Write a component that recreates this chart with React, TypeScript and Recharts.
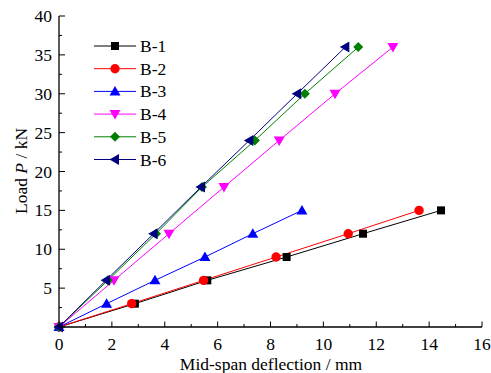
import React from 'react';
import { LineChart, Line, XAxis, YAxis, Legend } from 'recharts';

// load levels (kN)
const loadsB13 = [0, 3, 6, 9, 12, 15];
const loadsB46 = [0, 6, 12, 18, 24, 30, 36];

// mid-span deflection (mm)
const b1Defl = [0, 2.87, 5.61, 8.61, 11.5, 14.45];
const b2Defl = [0, 2.75, 5.47, 8.21, 10.94, 13.62];
const b3Defl = [0, 1.8, 3.63, 5.52, 7.33, 9.19];
const b4Defl = [0, 2.08, 4.16, 6.24, 8.33, 10.44, 12.63];
const b5Defl = [0, 1.85, 3.67, 5.41, 7.41, 9.3, 11.32];
const b6Defl = [0, 1.78, 3.58, 5.37, 7.2, 9.01, 10.83];

const xTicks = [0, 1, 2, 3, 4, 5, 6, 7, 8, 9, 10, 11, 12, 13, 14, 15, 16];
const yTicks = [0, 2.5, 5, 7.5, 10, 12.5, 15, 17.5, 20, 22.5, 25, 27.5, 30, 32.5, 35, 37.5, 40];

const FONT = '"Liberation Serif", "Times New Roman", serif';
const FS = 17.5;

type Shape = 'square' | 'circle' | 'up' | 'down' | 'diamond' | 'left';

const toPoints = (xs: number[], ys: number[]) => xs.map((x, i) => ({ x, y: ys[i] }));

const series: { name: string; color: string; shape: Shape; data: { x: number; y: number }[] }[] = [
  { name: 'B-1', color: '#000000', shape: 'square', data: toPoints(b1Defl, loadsB13) },
  { name: 'B-2', color: '#ff0000', shape: 'circle', data: toPoints(b2Defl, loadsB13) },
  { name: 'B-3', color: '#0000ff', shape: 'up', data: toPoints(b3Defl, loadsB13) },
  { name: 'B-4', color: '#ff00ff', shape: 'down', data: toPoints(b4Defl, loadsB46) },
  { name: 'B-5', color: '#008000', shape: 'diamond', data: toPoints(b5Defl, loadsB46) },
  { name: 'B-6', color: '#000080', shape: 'left', data: toPoints(b6Defl, loadsB46) },
];

function Marker({ cx, cy, shape, color }: { cx: number; cy: number; shape: Shape; color: string }) {
  if (cx == null || cy == null) return null;
  switch (shape) {
    case 'square':
      return <rect x={cx - 4} y={cy - 4} width={8} height={8} fill={color} />;
    case 'circle':
      return <circle cx={cx} cy={cy} r={4.7} fill={color} />;
    case 'up':
      return <polygon points={`${cx},${cy - 5.5} ${cx + 5.5},${cy + 4} ${cx - 5.5},${cy + 4}`} fill={color} />;
    case 'down':
      return <polygon points={`${cx},${cy + 5.5} ${cx + 5.5},${cy - 4} ${cx - 5.5},${cy - 4}`} fill={color} />;
    case 'diamond':
      return <polygon points={`${cx},${cy - 5} ${cx + 5},${cy} ${cx},${cy + 5} ${cx - 5},${cy}`} fill={color} />;
    case 'left':
      return <polygon points={`${cx - 5.5},${cy} ${cx + 4},${cy - 5.5} ${cx + 4},${cy + 5.5}`} fill={color} />;
  }
  return null;
}

const XTick = (props: any) => {
  const { x, y, payload } = props;
  const v = payload.value;
  const major = v % 2 === 0;
  return (
    <g>
      <line x1={x} x2={x} y1={y} y2={y - (major ? 5.5 : 3)} stroke="#000" strokeWidth={1} />
      {major && (
        <text x={x} y={y + 22.5} textAnchor="middle" fontFamily={FONT} fontSize={FS} fill="#000">
          {v}
        </text>
      )}
    </g>
  );
};

const YTick = (props: any) => {
  const { x, y, payload } = props;
  const v = payload.value;
  const major = v % 5 === 0;
  return (
    <g>
      <line x1={x} x2={x + (major ? 6 : 3)} y1={y} y2={y} stroke="#000" strokeWidth={1} />
      {major && v > 0 && (
        <text x={x - 7} y={y + 6} textAnchor="end" fontFamily={FONT} fontSize={FS} fill="#000">
          {v}
        </text>
      )}
    </g>
  );
};

const XTitle = () => (
  <text x={271} y={369.5} textAnchor="middle" fontFamily={FONT} fontSize={FS} fill="#000">
    Mid-span deflection / mm
  </text>
);

const YTitle = () => (
  <text
    x={27}
    y={171}
    transform="rotate(-90, 27, 171)"
    textAnchor="middle"
    fontFamily={FONT}
    fontSize={FS}
    fill="#000"
  >
    Load <tspan fontStyle="italic">P</tspan> / kN
  </text>
);

const LegendBox = () => (
  <svg width={90} height={140}>
    {series.map((s, i) => {
      const cy = 11 + i * 22.7;
      return (
        <g key={s.name}>
          <line x1={4} x2={46} y1={cy} y2={cy} stroke={s.color} strokeWidth={1} />
          <Marker cx={25} cy={cy} shape={s.shape} color={s.color} />
          <text x={50} y={cy + 6} fontFamily={FONT} fontSize={FS} fill="#000">
            {s.name}
          </text>
        </g>
      );
    })}
  </svg>
);

export default function App() {
  return (
    <div style={{ position: 'absolute', left: 0, top: 0, width: 491, height: 373, background: '#fff' }}>
      <LineChart width={491} height={373} margin={{ top: 16, right: 9, left: 0, bottom: 0 }}>
        <XAxis
          type="number"
          dataKey="x"
          domain={[0, 16]}
          ticks={xTicks}
          interval={0}
          height={46}
          tickSize={0}
          tickMargin={0}
          tickLine={false}
          axisLine={{ stroke: '#000', strokeWidth: 1.3 }}
          tick={<XTick />}
          label={<XTitle />}
        />
        <YAxis
          type="number"
          dataKey="y"
          domain={[0, 40]}
          ticks={yTicks}
          interval={0}
          width={59}
          tickSize={0}
          tickMargin={0}
          tickLine={false}
          axisLine={{ stroke: '#000', strokeWidth: 1.3 }}
          tick={<YTick />}
          label={<YTitle />}
        />
        <Legend
          layout="vertical"
          align="center"
          verticalAlign="middle"
          wrapperStyle={{ position: 'absolute', left: 90, top: 35, width: 90, height: 140 }}
          content={() => <LegendBox />}
        />
        {series.map((s) => (
          <Line
            key={s.name}
            name={s.name}
            data={s.data}
            dataKey="y"
            type="linear"
            stroke={s.color}
            strokeWidth={1}
            isAnimationActive={false}
            dot={(p: any) => <Marker key={`${s.name}-${p.index}`} cx={p.cx} cy={p.cy} shape={s.shape} color={s.color} />}
            activeDot={false}
          />
        ))}
      </LineChart>
    </div>
  );
}
